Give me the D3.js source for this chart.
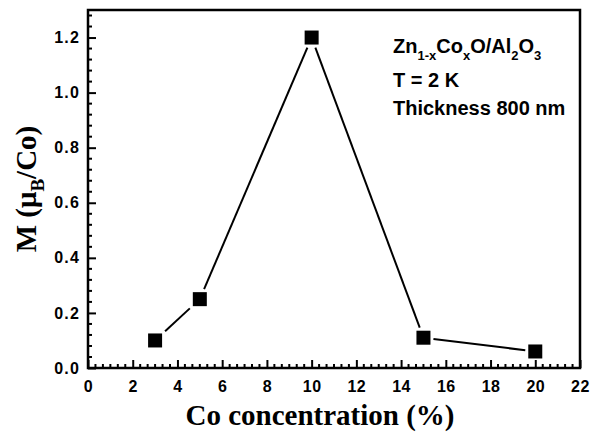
<!DOCTYPE html>
<html>
<head>
<meta charset="utf-8">
<script src="https://cdn.jsdelivr.net/npm/d3@7"></script>
<style>
  html, body { margin: 0; padding: 0; background: #fff; }
  svg { display: block; }
</style>
</head>
<body>
<svg id="chart" width="595" height="432"></svg>
<script>
// Magnetic moment per Co atom vs. Co concentration
const coConcentration = [3, 5, 10, 15, 20];
const moment = [0.10, 0.25, 1.20, 0.11, 0.06];
const xTickValues = [0, 2, 4, 6, 8, 10, 12, 14, 16, 18, 20, 22];
const yTickValues = [0.0, 0.2, 0.4, 0.6, 0.8, 1.0, 1.2];

const W = 595, H = 432;
const m = { left: 88, right: 15, top: 10, bottom: 64 };
const svg = d3.select("#chart");

const x = d3.scaleLinear().domain([0, 22]).range([m.left, W - m.right]);
const y = d3.scaleLinear().domain([0, 1.3]).range([H - m.bottom, m.top]);

const tickFont = "'Liberation Sans', Arial, sans-serif";
const titleFont = "'Liberation Serif', 'Times New Roman', serif";

// minor ticks
const xMinor = d3.range(0, 22.001, 2 / 6).filter(v => Math.abs(v / 2 - Math.round(v / 2)) > 1e-6);
const yMinor = d3.range(0, 1.2801, 0.04).filter(v => Math.abs(v / 0.2 - Math.round(v / 0.2)) > 1e-6);

// bottom axis, ticks pointing inward
const xAxis = d3.axisBottom(x).tickValues(xTickValues).tickFormat(d3.format("d"))
  .tickSizeInner(-8).tickSizeOuter(0).tickPadding(13);
const gx = svg.append("g").attr("transform", `translate(0,${y(0)})`).call(xAxis)
  .attr("font-family", null).attr("font-size", null);
gx.select(".domain").remove();
gx.selectAll(".tick line").attr("stroke", "#000").attr("stroke-width", 2);
gx.selectAll(".tick text")
  .style("font-family", tickFont).style("font-weight", "bold").style("font-size", "16px")
  .attr("fill", "#000").attr("dy", "0.71em").style("letter-spacing", "0.5px");
gx.selectAll(".minor").data(xMinor).join("line").attr("class", "minor")
  .attr("x1", d => x(d)).attr("x2", d => x(d)).attr("y1", 0).attr("y2", -4)
  .attr("stroke", "#000").attr("stroke-width", 2);

// left axis, ticks pointing inward
const yAxis = d3.axisLeft(y).tickValues(yTickValues).tickFormat(d3.format(".1f"))
  .tickSizeInner(-8).tickSizeOuter(0).tickPadding(8);
const gy = svg.append("g").attr("transform", `translate(${x(0)},0)`).call(yAxis)
  .attr("font-family", null).attr("font-size", null);
gy.select(".domain").remove();
gy.selectAll(".tick line").attr("stroke", "#000").attr("stroke-width", 2);
gy.selectAll(".tick text")
  .style("font-family", tickFont).style("font-weight", "bold").style("font-size", "16px")
  .attr("fill", "#000").style("letter-spacing", "1.2px");
gy.selectAll(".minor").data(yMinor).join("line").attr("class", "minor")
  .attr("x1", 0).attr("x2", 4).attr("y1", d => y(d)).attr("y2", d => y(d))
  .attr("stroke", "#000").attr("stroke-width", 2);

// frame
svg.append("rect")
  .attr("x", x(0)).attr("y", y(1.3))
  .attr("width", x(22) - x(0)).attr("height", y(0) - y(1.3))
  .attr("fill", "none").attr("stroke", "#000").attr("stroke-width", 2.5);

// data
const pts = coConcentration.map((c, i) => ({ px: x(c), py: y(moment[i]) }));
const half = 7, gap = 3;
const segs = d3.pairs(pts).map(([a, b]) => {
  const dx = b.px - a.px, dy = b.py - a.py;
  const t = (half + gap) / Math.max(Math.abs(dx), Math.abs(dy));
  return { x1: a.px + dx * t, y1: a.py + dy * t, x2: b.px - dx * t, y2: b.py - dy * t };
});
svg.append("g").selectAll("line").data(segs).join("line")
  .attr("x1", d => d.x1).attr("y1", d => d.y1).attr("x2", d => d.x2).attr("y2", d => d.y2)
  .attr("stroke", "#000").attr("stroke-width", 2);
svg.append("g").selectAll("rect").data(pts).join("rect")
  .attr("x", d => d.px - half).attr("y", d => d.py - half)
  .attr("width", half * 2).attr("height", half * 2).attr("fill", "#000");

// annotation
const ann = svg.append("g").style("font-family", tickFont).style("font-weight", "bold")
  .attr("fill", "#000");
const l1 = ann.append("text").attr("x", 393).attr("y", 53).style("font-size", "20px");
[["Zn", 0], ["1-x", 1], ["Co", 0], ["x", 1], ["O/Al", 0], ["2", 1], ["O", 0], ["3", 1]].forEach(([t, sub], i) => {
  const s = l1.append("tspan").text(t);
  if (sub) s.style("font-size", "13px").attr("dy", 7);
  else if (i > 0) s.attr("dy", -7);
});
ann.append("text").attr("x", 393).attr("y", 87).style("font-size", "20px").text("T = 2 K");
ann.append("text").attr("x", 393).attr("y", 115).style("font-size", "20px").text("Thickness 800 nm");

// axis titles
svg.append("text")
  .attr("x", 320).attr("y", 425)
  .attr("text-anchor", "middle").style("font-family", titleFont)
  .style("font-weight", "bold").style("font-size", "29px").attr("fill", "#000")
  .text("Co concentration (%)");

const yt = svg.append("text")
  .attr("transform", `translate(36,${(y(0) + y(1.3)) / 2}) rotate(-90)`)
  .attr("text-anchor", "middle").style("font-family", titleFont)
  .style("font-weight", "bold").style("font-size", "29px").attr("fill", "#000");
yt.append("tspan").text("M (\u03bc");
yt.append("tspan").text("B").style("font-size", "19px").attr("dy", 8);
yt.append("tspan").text("/Co)").attr("dy", -8);
</script>
</body>
</html>
